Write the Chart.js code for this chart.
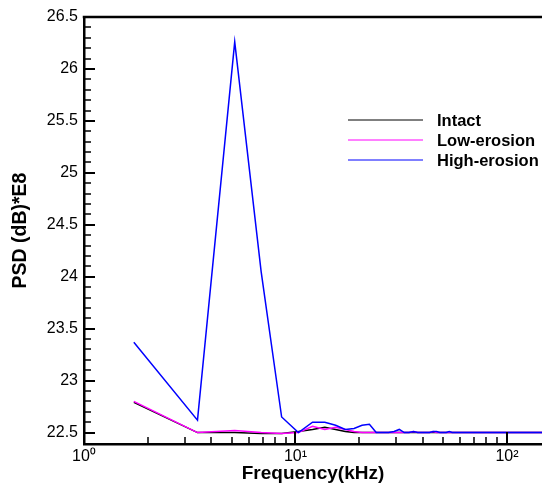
<!DOCTYPE html>
<html lang="en">
<head>
<meta charset="UTF-8">
<title>PSD vs Frequency</title>
<script src="https://cdn.jsdelivr.net/npm/chart.js"></script>
<style>
  html, body { margin: 0; padding: 0; background: #fff; }
</style>
</head>
<body>
<canvas id="psdChart" width="542" height="483"></canvas>
<script>
// frequency samples (kHz) and PSD values (dB*E8)
const freqKHz = [1.72, 3.44, 5.16, 6.88, 8.6, 10.32, 12.04, 13.76, 15.48, 17.2, 18.92,
  20.64, 22.36, 24.08, 25.8, 27.52, 29.24, 30.96, 32.68, 34.4, 36.12, 37.84, 39.56,
  41.28, 43.0, 44.72, 46.44, 48.16, 49.88, 51.6, 53.32, 55.04, 146.4];

const intact = [22.79, 22.5, 22.5, 22.49, 22.49, 22.51, 22.53, 22.55, 22.53, 22.51, 22.5,
  22.5, 22.5, 22.5, 22.5, 22.5, 22.5, 22.5, 22.5, 22.5, 22.5, 22.5, 22.5,
  22.5, 22.5, 22.5, 22.5, 22.5, 22.5, 22.5, 22.5, 22.5, 22.5];

const lowErosion = [22.8, 22.5, 22.52, 22.5, 22.49, 22.5, 22.56, 22.53, 22.55, 22.53, 22.51,
  22.5, 22.5, 22.5, 22.5, 22.5, 22.5, 22.5, 22.5, 22.5, 22.51, 22.5, 22.5,
  22.5, 22.5, 22.51, 22.5, 22.5, 22.5, 22.5, 22.5, 22.5, 22.5];

const highErosion = [23.37, 22.62, 26.26, 24.05, 22.65, 22.5, 22.6, 22.6, 22.57, 22.53, 22.54,
  22.57, 22.58, 22.5, 22.5, 22.5, 22.51, 22.53, 22.5, 22.5, 22.51, 22.5, 22.5,
  22.5, 22.5, 22.51, 22.51, 22.5, 22.5, 22.5, 22.51, 22.5, 22.5];

// axis ticks
const xMajorTicks = [1, 10, 100];
const xTickLabels = ['10\u2070', '10\u00B9', '10\u00B2'];
const xMinorTicks = [2, 3, 4, 5, 6, 7, 8, 9, 20, 30, 40, 50, 60, 70, 80, 90];
const yMajorTicks = [22.5, 23, 23.5, 24, 24.5, 25, 25.5, 26, 26.5];

const FONT = 'Liberation Sans, Arial, Helvetica, sans-serif';

const toPoints = vals => freqKHz.map((f, i) => ({ x: f, y: vals[i] }));

// inward tick marks, top frame line and the legend
const frame = {
  id: 'frame',
  afterDraw(chart) {
    const { ctx, chartArea: a, scales: { x, y } } = chart;
    ctx.save();
    ctx.strokeStyle = '#000';

    ctx.lineWidth = 2;
    ctx.beginPath();
    xMajorTicks.forEach(v => {
      const px = Math.round(x.getPixelForValue(v));
      ctx.moveTo(px, a.bottom); ctx.lineTo(px, a.bottom - 12);
    });
    yMajorTicks.forEach(v => {
      const py = Math.round(y.getPixelForValue(v));
      ctx.moveTo(a.left, py); ctx.lineTo(a.left + 11, py);
    });
    ctx.stroke();

    ctx.lineWidth = 1.5;
    ctx.beginPath();
    xMinorTicks.forEach(v => {
      const px = Math.round(x.getPixelForValue(v));
      ctx.moveTo(px, a.bottom); ctx.lineTo(px, a.bottom - 7);
    });
    for (let k = 1; k < 40; k++) {
      if (k % 5 === 0) continue;
      const py = Math.round(y.getPixelForValue(22.5 + k * 0.1));
      ctx.moveTo(a.left, py); ctx.lineTo(a.left + 7, py);
    }
    ctx.stroke();

    // top frame
    ctx.lineWidth = 2.5;
    ctx.beginPath();
    ctx.moveTo(a.left - 1.25, a.top); ctx.lineTo(a.right, a.top);
    ctx.stroke();

    // legend
    ctx.font = 'bold 16.5px ' + FONT;
    ctx.textBaseline = 'middle';
    ctx.fillStyle = '#000';
    const rows = [chart.data.datasets[2], chart.data.datasets[1], chart.data.datasets[0]];
    rows.forEach((ds, i) => {
      const ly = 120 + i * 20;
      ctx.strokeStyle = ds.borderColor;
      ctx.lineWidth = 1;
      ctx.beginPath();
      ctx.moveTo(348, ly); ctx.lineTo(423, ly);
      ctx.stroke();
      ctx.fillText(ds.label, 437, ly + 1);
    });
    ctx.restore();
  }
};

new Chart(document.getElementById('psdChart'), {
  type: 'line',
  data: {
    datasets: [
      { label: 'High-erosion', data: toPoints(highErosion), borderColor: '#0000ff', order: 0 },
      { label: 'Low-erosion', data: toPoints(lowErosion), borderColor: '#ff00ff', order: 1 },
      { label: 'Intact', data: toPoints(intact), borderColor: '#000000', order: 2 }
    ]
  },
  options: {
    responsive: false,
    animation: false,
    parsing: false,
    datasets: { line: { borderWidth: 1.5, pointRadius: 0, tension: 0, fill: false } },
    layout: { padding: { top: 17, right: 0, bottom: 0, left: 0 } },
    plugins: { legend: { display: false }, tooltip: { enabled: false } },
    scales: {
      x: {
        type: 'logarithmic',
        min: 1,
        max: 146.4,
        grid: { display: false, drawTicks: false },
        border: { display: true, color: '#000', width: 2.5 },
        afterBuildTicks: s => { s.ticks = xMajorTicks.map(v => ({ value: v })); },
        afterFit: s => { s.height = 39; },
        ticks: {
          autoSkip: false, maxRotation: 0, padding: 3, color: '#000',
          font: { family: FONT, size: 16 },
          callback: v => {
            const i = xMajorTicks.indexOf(v);
            return i >= 0 ? xTickLabels[i] : '';
          }
        },
        title: {
          display: true, text: 'Frequency(kHz)', color: '#000',
          font: { family: FONT, size: 19, weight: 'bold', lineHeight: 1 },
          padding: { top: 0, bottom: 0 }
        }
      },
      y: {
        min: 22.39,
        max: 26.5,
        grid: { display: false, drawTicks: false },
        border: { display: true, color: '#000', width: 2.5 },
        afterBuildTicks: s => { s.ticks = yMajorTicks.map(v => ({ value: v })); },
        afterFit: s => { s.width = 84; },
        ticks: {
          padding: 6, color: '#000',
          font: { family: FONT, size: 16 },
          callback: v => String(v)
        },
        title: {
          display: true, text: 'PSD (dB)*E8', color: '#000',
          font: { family: FONT, size: 19.5, weight: 'bold', lineHeight: 1 },
          padding: { top: 11, bottom: 0 }
        }
      }
    }
  },
  plugins: [frame]
});
</script>
</body>
</html>
